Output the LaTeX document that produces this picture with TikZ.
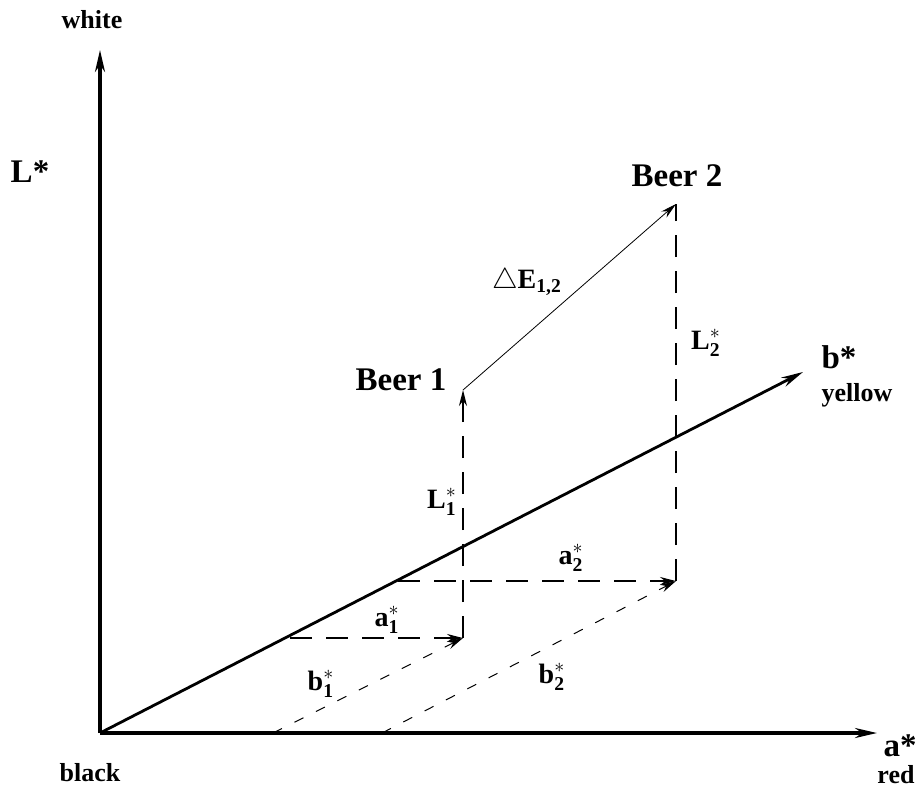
\documentclass[tikz,border=0pt]{standalone}
\usepackage{fontspec}
\setmainfont{Liberation Serif}
\usetikzlibrary{arrows.meta, positioning}
\newcommand{\comp}[2]{$\mathbf{#1}^{*}_{\mathbf{#2}}$}

\begin{document}
\begin{tikzpicture}[x=0.5pt, y=-0.5pt,
  axis/.style={line width=1.6pt, -{Stealth[length=11pt, width=5pt]}},
  proj/.style={line width=0.8pt, dash pattern=on 11pt off 7pt},
  diag/.style={line width=0.5pt, dash pattern=on 5pt off 7pt},
  tip/.style={-{Stealth[length=8pt, width=4pt]}},
  big/.style={font=\fontsize{16.5}{18}\selectfont\bfseries, inner sep=0pt},
  small/.style={font=\fontsize{13}{15}\selectfont\bfseries, inner sep=0pt},
  lbl/.style={font=\fontsize{14}{16}\selectfont, inner sep=0pt}]
\useasboundingbox (0,0) rectangle (921,789);

% points
\coordinate (O) at (100,733);
\coordinate (Ltop) at (100,50);
\coordinate (aend) at (877,733);
\coordinate (bend) at (803,372);
\coordinate (B1) at (463,390);
\coordinate (B2) at (676,204);
\coordinate (P1) at (463,638);
\coordinate (P2) at (676,581);
\coordinate (A1) at (290,638);
\coordinate (A2) at (398,581);
\coordinate (Q1) at (273,733);
\coordinate (Q2) at (382,733);

% axes
\draw[axis] (O) -- (Ltop);
\draw[axis] (O) -- (aend);
\draw[axis, line width=1.4pt] (O) -- (bend);

% projections
\draw[proj, tip] (P1) -- (B1);
\draw[proj] (P2) -- (B2);
\draw[proj, tip] (A1) -- (P1);
\draw[proj, tip] (A2) -- (P2);
\draw[diag, tip] (Q1) -- (P1);
\draw[diag, tip] (Q2) -- (P2);
\draw[line width=0.4pt, tip] (B1) -- (B2);

% labels
\node[small] (white) at (92,20) {white};
\node[big] (Lax) at (30,172) {L*};
\node[small] (black) at (90,773) {black};
\node[big] (aax) at (900,746) {a*};
\node[small, below=4pt of aax.south, xshift=-2pt] (red) {red};
\node[big] (bax) at (839,357) {b*};
\node[small] (yellow) at (857,395) {yellow};
\node[big] (beer1) at (401,380) {Beer 1};
\node[big] (beer2) at (677,176) {Beer 2};
\node[lbl] (dE) at (527,282) {$\triangle$\textbf{E}\textsubscript{\textbf{1,2}}};
\node[lbl] (L1) at (442,502) {\comp{L}{1}};
\node[lbl] (L2) at (706,343) {\comp{L}{2}};
\node[lbl] (a1) at (387,620) {\comp{a}{1}};
\node[lbl] (a2) at (571,558) {\comp{a}{2}};
\node[lbl] (b1) at (321,684) {\comp{b}{1}};
\node[lbl] (b2) at (552,677) {\comp{b}{2}};
\end{tikzpicture}
\end{document}
